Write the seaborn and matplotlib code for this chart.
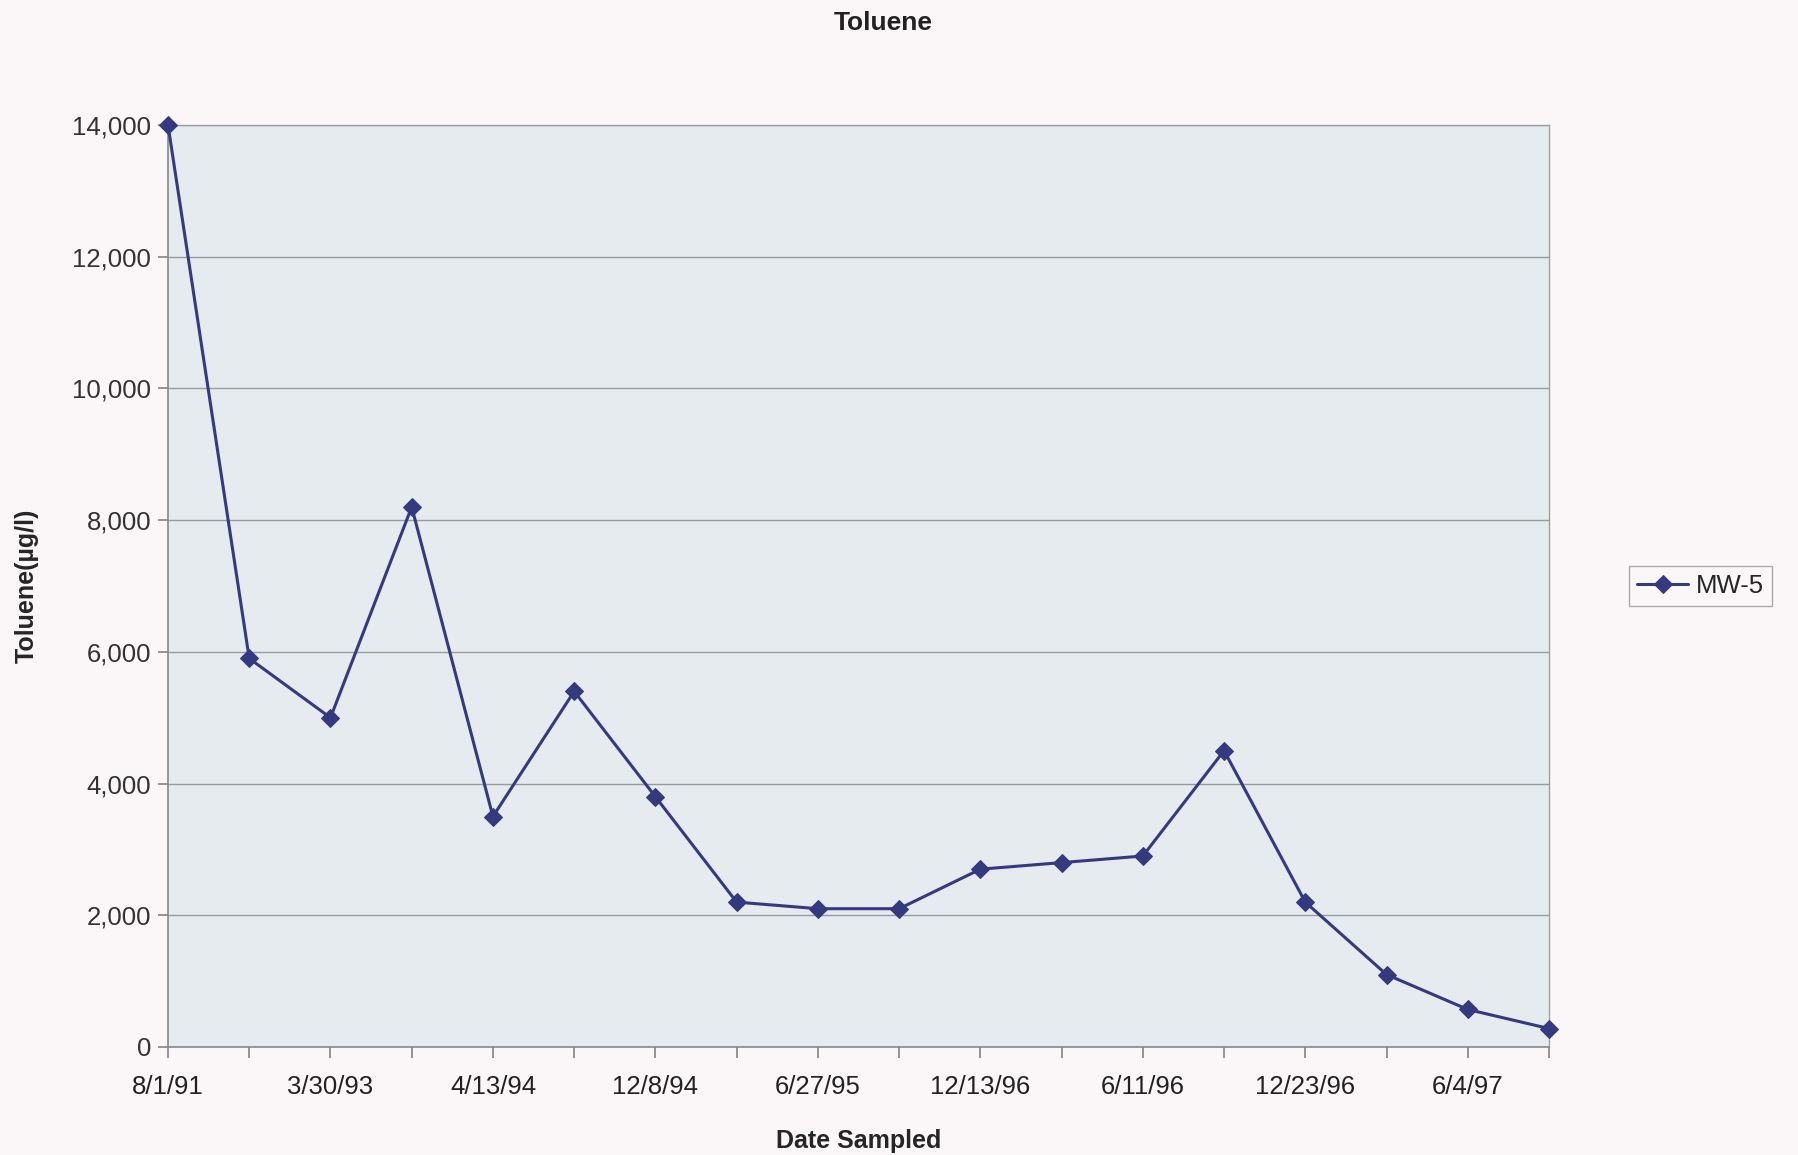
import matplotlib
matplotlib.use("Agg")
import matplotlib.pyplot as plt
import seaborn as sns
import pandas as pd
import numpy as np

dates = ["8/1/91", "", "3/30/93", "", "4/13/94", "", "12/8/94", "", "6/27/95", "",
         "12/13/96", "", "6/11/96", "", "12/23/96", "", "6/4/97", ""]
toluene = [14000, 5900, 5000, 8200, 3500, 5400, 3800, 2200, 2100, 2100,
           2700, 2800, 2900, 4500, 2200, 1100, 570, 280]
series_name = "MW-5"

df = pd.DataFrame({"idx": np.arange(len(toluene)), "val": toluene, "well": series_name})

sns.set_theme(style="white")
plt.rcParams["font.family"] = ["Liberation Sans", "DejaVu Sans"]

fig = plt.figure(figsize=(17.98, 11.55), dpi=100, facecolor="#fbf6f8")
ax = fig.add_axes([168/1798, 1 - 1047/1155, (1549-168)/1798, (1047-125)/1155])
ax.set_facecolor("#e5ebee")

sns.lineplot(data=df, x="idx", y="val", hue="well", palette=["#343a80"], marker="D",
             markersize=9, markeredgecolor="#343a80", linewidth=2.2, ax=ax, legend=True,
             clip_on=False, zorder=5)

ax.set_xlim(0, len(toluene) - 1)
ax.set_ylim(0, 14000)
ax.set_yticks(np.arange(0, 14001, 2000))
ax.yaxis.set_major_formatter(matplotlib.ticker.FuncFormatter(lambda v, p: f"{int(v):,}"))
ax.set_xticks(df["idx"])
ax.set_xticklabels(dates)
ax.grid(axis="y", color="#9a9a9a", linewidth=1.0)
ax.set_axisbelow(True)
for s in ["top", "right"]:
    ax.spines[s].set_color("#a0a0a0")
    ax.spines[s].set_linewidth(1.0)
for s in ["left", "bottom"]:
    ax.spines[s].set_color("#888888")
    ax.spines[s].set_linewidth(1.2)
ax.tick_params(axis="x", which="major", direction="out", length=8, color="#888888",
               labelsize=18.5, labelcolor="#222222", pad=12, bottom=True)
ax.tick_params(axis="y", which="major", direction="out", length=7, color="#888888",
               labelsize=18.5, labelcolor="#333333", pad=5, left=True)

ax.set_xlabel("Date Sampled", fontsize=18, fontweight="bold", labelpad=22)
ax.set_ylabel("Toluene(µg/l)", fontsize=18, fontweight="bold", labelpad=24)
fig.text(883/1798, 1 - 23/1155, "Toluene", fontsize=19,
         fontweight="bold", color="#222222", ha="center", va="center")

leg = ax.legend(loc="center left", bbox_to_anchor=(1.058, 0.5), frameon=True,
                fontsize=18.5, handlelength=2.0, handletextpad=0.3, borderpad=0.3,
                borderaxespad=0, fancybox=False)
leg.get_frame().set_edgecolor("#999999")
leg.get_frame().set_facecolor("#fbf6f8")

fig.savefig("out.png", dpi=100, facecolor=fig.get_facecolor())
